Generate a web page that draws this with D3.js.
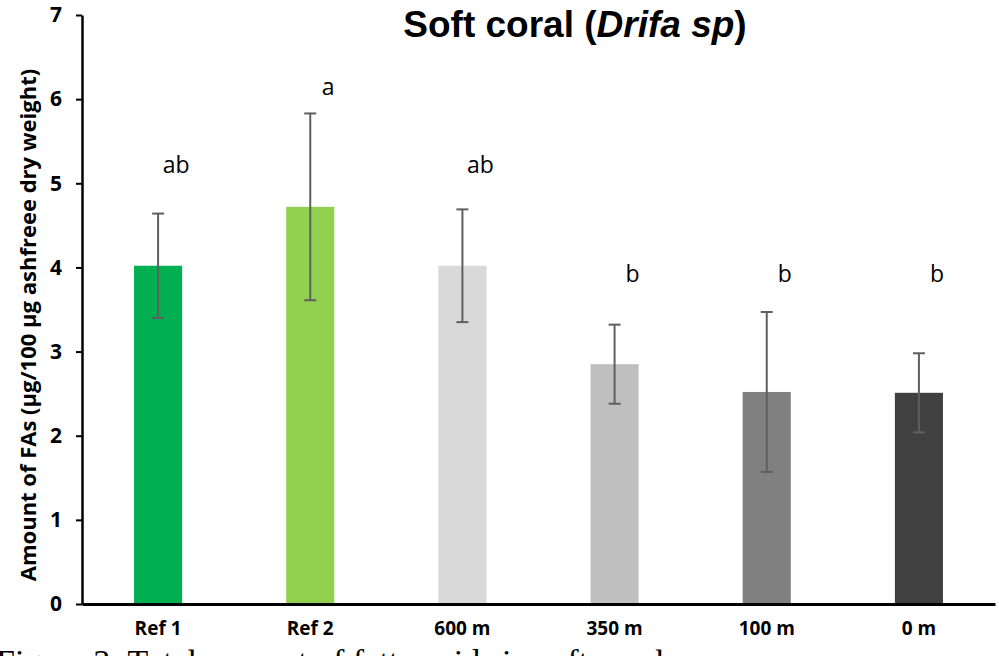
<!DOCTYPE html>
<html>
<head>
<meta charset="utf-8">
<script src="https://cdn.jsdelivr.net/npm/d3@7"></script>
<style>
  body { margin: 0; background: #fff; }
  svg { display: block; }
</style>
</head>
<body>
<div id="vis"></div>
<script>
// chart values
var sites = ["Ref 1", "Ref 2", "600 m", "350 m", "100 m", "0 m"];
var means = [4.02, 4.72, 4.02, 2.85, 2.52, 2.51];
var errs = [0.62, 1.11, 0.67, 0.47, 0.95, 0.47];
var letters = ["ab", "a", "ab", "b", "b", "b"];
var letterAt = [5.22, 6.14, 5.22, 3.92, 3.92, 3.92];
var barColors = ["#00B050", "#92D050", "#D9D9D9", "#BFBFBF", "#808080", "#404040"];
var yTicks = [0, 1, 2, 3, 4, 5, 6, 7];

var width = 999, height = 656;
var margin = { top: 15, right: 5, bottom: 52, left: 82 };

var svg = d3.select("#vis").append("svg")
    .attr("width", width).attr("height", height);

var x = d3.scaleBand()
    .domain(sites)
    .range([margin.left, width - margin.right + 1])
    .paddingInner(0.684)
    .paddingOuter(0.342);

var y = d3.scaleLinear()
    .domain([0, 7])
    .range([height - margin.bottom, margin.top]);

//bars
svg.selectAll("rect.bar")
    .data(sites)
    .enter().append("rect")
    .attr("class", "bar")
    .attr("x", d => x(d))
    .attr("width", x.bandwidth())
    .attr("y", (d, i) => y(means[i]))
    .attr("height", (d, i) => y(0) - y(means[i]))
    .attr("fill", (d, i) => barColors[i]);

//error bars
var eb = svg.append("g").attr("stroke", "#5f5f5f").attr("stroke-width", 2);
sites.forEach(function (s, i) {
    var cx = x(s) + x.bandwidth() / 2;
    eb.append("line").attr("x1", cx).attr("x2", cx)
        .attr("y1", y(means[i] + errs[i])).attr("y2", y(means[i] - errs[i]));
    [means[i] + errs[i], means[i] - errs[i]].forEach(function (v) {
        eb.append("line").attr("x1", cx - 6).attr("x2", cx + 6)
            .attr("y1", y(v)).attr("y2", y(v));
    });
});

//significance letters
svg.selectAll("text.letter")
    .data(sites)
    .enter().append("text")
    .attr("class", "letter")
    .attr("x", d => x(d) + x.bandwidth() / 2 + 18)
    .attr("y", (d, i) => y(letterAt[i]) + 8)
    .attr("text-anchor", "middle")
    .style("font-family", "'Open Sans', sans-serif")
    .style("font-size", "23px")
    .attr("fill", "#000")
    .text((d, i) => letters[i]);

//y axis
var yAxis = svg.append("g")
    .attr("transform", "translate(" + margin.left + ",0)")
    .call(d3.axisLeft(y).tickValues(yTicks).tickFormat(d3.format("d"))
        .tickSize(6).tickSizeOuter(0).tickPadding(14));
yAxis.select(".domain").attr("stroke", "#000").attr("stroke-width", 2.5);
yAxis.selectAll(".tick line").attr("stroke", "#000").attr("stroke-width", 2);
yAxis.selectAll(".tick text")
    .style("font-family", "'Open Sans', sans-serif")
    .style("font-weight", "bold")
    .style("font-size", "21px")
    .attr("fill", "#000");

//x axis
var xAxis = svg.append("g")
    .attr("transform", "translate(0," + y(0) + ")")
    .call(d3.axisBottom(x).tickSize(0).tickPadding(18));
xAxis.select(".domain").attr("stroke", "#000").attr("stroke-width", 3);
xAxis.selectAll(".tick text")
    .style("font-family", "'Open Sans', sans-serif")
    .style("font-weight", "bold")
    .style("font-size", "19px")
    .attr("fill", "#000");

//axis title
svg.append("text")
    .attr("transform", "translate(36," + 325 + ") rotate(-90)")
    .attr("text-anchor", "middle")
    .style("font-family", "'Open Sans', sans-serif")
    .style("font-weight", "bold")
    .style("font-size", "22px")
    .text("Amount of FAs (µg/100 µg ashfreee dry weight)");

//chart title
var title = svg.append("text")
    .attr("x", 575).attr("y", 37)
    .attr("text-anchor", "middle")
    .style("font-family", "'Liberation Sans', Arial, sans-serif")
    .style("font-weight", "bold")
    .style("font-size", "37px");
title.append("tspan").text("Soft coral (");
title.append("tspan").style("font-style", "italic").text("Drifa sp");
title.append("tspan").text(")");

//caption, cut off by the page edge
svg.append("text")
    .attr("x", -4).attr("y", 673)
    .style("font-family", "'Liberation Serif', serif")
    .style("font-size", "34px")
    .text("Figure 3: Total amount of fatty acids in soft coral");
</script>
</body>
</html>
